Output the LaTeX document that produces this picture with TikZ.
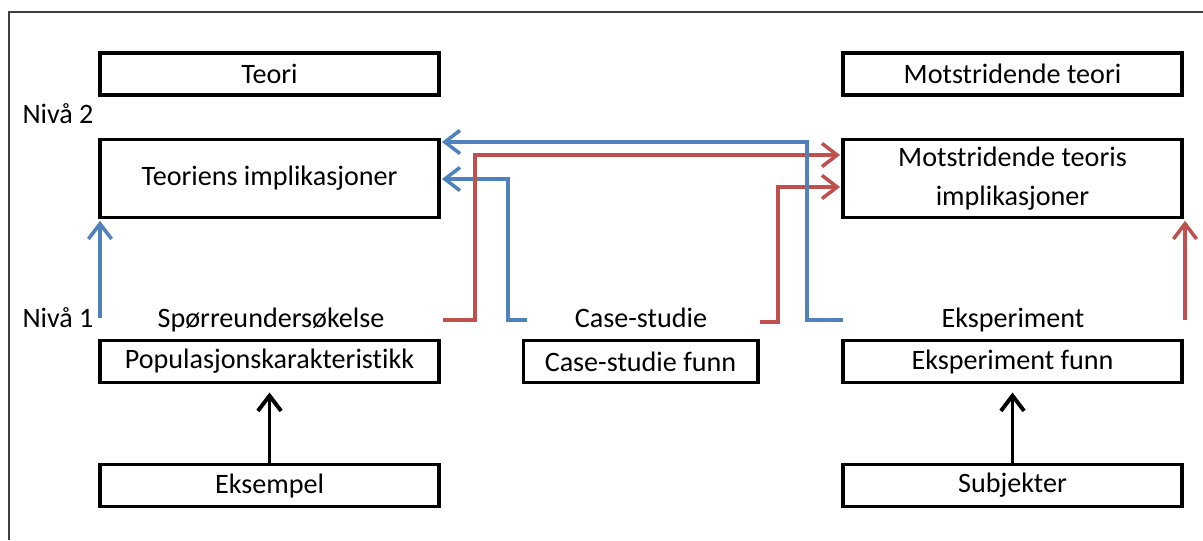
\documentclass[tikz,border=0pt]{standalone}
\usepackage{fontspec}
\setmainfont{Carlito}[Ligatures=NoCommon]
\usetikzlibrary{arrows.meta}
\definecolor{lineblue}{HTML}{4F81BD}
\definecolor{linered}{HTML}{C0504D}
\begin{document}
\begin{tikzpicture}[x=0.025cm, y=-0.025cm,
    font=\fontsize{20}{28}\selectfont,
    box/.style={draw, line width=2.8pt, minimum width=8.45cm, minimum height=1.05cm, inner sep=0pt, align=center},
    bigbox/.style={box, minimum height=1.95cm},
    label/.style={anchor=base, inner sep=0pt},
    bluearr/.style={lineblue, line width=2.5pt, -{Straight Barb[length=3.8mm, width=5.8mm]}, shorten >=1pt},
    redarr/.style={linered, line width=2.5pt, -{Straight Barb[length=3.8mm, width=5.8mm]}, shorten >=1pt},
    blackarr/.style={line width=2.8pt, -{Straight Barb[length=3.8mm, width=5.8mm]}, shorten >=0.2cm}]

    \useasboundingbox (0,0) rectangle (1203,540);

    % Draw the frame
    \draw[line width=1.3pt, black!75] (9,540) -- (9,12) -- (1203,12);

    % Boxes on the left
    \node[box] (teori) at (269.5,74) {Teori};
    \node[bigbox] (teoimp) at (269.5,178.5) {Teoriens implikasjoner};
    \node[box] (pop) at (269.5,361.5) {Populasjonskarakteristikk};
    \node[box] (eksempel) at (269.5,485.5) {Eksempel};

    % Box in the middle
    \node[box, minimum width=5.85cm] (casefunn) at (640.5,361.5) {Case-studie funn};

    % Boxes on the right
    \node[box] (motteori) at (1012.5,74) {Motstridende teori};
    \node[bigbox] (motimp) at (1012.5,178.5) {Motstridende teoris\\implikasjoner};
    \node[box] (eksfunn) at (1012.5,361.5) {Eksperiment funn};
    \node[box] (subjekter) at (1012.5,485.5) {Subjekter};

    % Level and method labels
    \node[label] (niva2) at (58,123) {Nivå 2};
    \node[label] (niva1) at (58,327) {Nivå 1};
    \node[label] (sporre) at (271,327) {Spørreundersøkelse};
    \node[label] (case) at (641,327) {Case-studie};
    \node[label] (eksp) at (1013,327) {Eksperiment};

    % Free ends and corners of the coloured connectors
    \coordinate (b0) at (100,318);
    \coordinate (b1) at (843,320);
    \coordinate (t1) at (807,142);
    \coordinate (b2) at (527,320);
    \coordinate (t2) at (508,179);
    \coordinate (r0) at (1185,320);
    \coordinate (r1) at (443,320);
    \coordinate (t3) at (475,155);
    \coordinate (r2) at (760,322);
    \coordinate (t4) at (778,187);

    % Black arrows
    \draw[blackarr] (eksempel) -- (pop);
    \draw[blackarr] (subjekter) -- (eksfunn);

    % Coloured arrows
    \draw[bluearr] (b0) -- (b0 |- teoimp.south);
    \draw[redarr] (r0) -- (r0 |- motimp.south);
    \draw[bluearr] (b2) -| (t2) -- (t2 -| teoimp.east);
    \draw[redarr] (r1) -| (t3) -- (t3 -| motimp.west);
    \draw[redarr] (r2) -| (t4) -- (t4 -| motimp.west);
    \draw[bluearr] (b1) -| (t1) -- (t1 -| teoimp.east);

\end{tikzpicture}
\end{document}
